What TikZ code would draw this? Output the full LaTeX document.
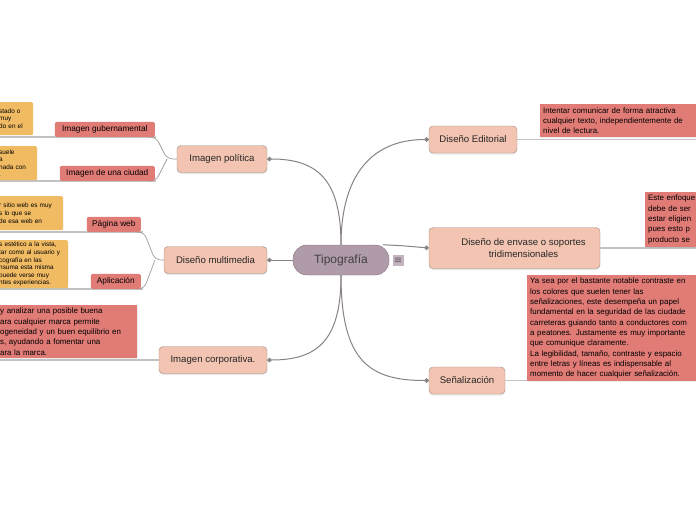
\documentclass[tikz,border=0pt]{standalone}
\usepackage{fontspec}
\setmainfont{Liberation Sans}
\newfontfamily\iconfont{DejaVu Sans}
\usetikzlibrary{arrows.meta,shadows}

\definecolor{hubfill}{HTML}{B09BAA}
\definecolor{hubdraw}{HTML}{85727F}
\definecolor{topicfill}{HTML}{F2C4B1}
\definecolor{topicdraw}{HTML}{9E8E8A}
\definecolor{notered}{HTML}{E07B76}
\definecolor{noteyellow}{HTML}{F0BB63}
\definecolor{linkgrey}{HTML}{8A8282}
\definecolor{basegrey}{HTML}{C2C2C2}

\tikzset{
  hub/.style={draw=hubdraw, fill=hubfill, rounded corners=14pt, minimum width=96pt, minimum height=30pt, text=black!75, font=\fontsize{12}{14}\selectfont},
  topic/.style={draw=topicdraw, fill=topicfill, rounded corners=4pt, minimum height=27pt, text=black!85, font=\fontsize{9.6}{11.5}\selectfont, align=center,
    drop shadow={opacity=0.18, shadow xshift=0pt, shadow yshift=-1.5pt}},
  tag/.style={fill=notered, rounded corners=1.5pt, minimum height=15pt, inner xsep=3pt, font=\fontsize{8.3}{10}\selectfont, anchor=south east},
  rednote/.style={fill=notered, anchor=north west, align=left, inner sep=3pt, font=\fontsize{7.9}{10.3}\selectfont,
    drop shadow={opacity=0.15, shadow xshift=0.8pt, shadow yshift=-0.8pt}},
  yellownote/.style={fill=noteyellow, rounded corners=2pt, anchor=north west, align=left, inner sep=2pt, font=\fontsize{6.4}{7.6}\selectfont},
  link/.style={draw=linkgrey, line width=1pt, -{Circle[length=4.5pt]}},
  fork/.style={draw=linkgrey!80, line width=0.7pt, rounded corners=6pt},
  base/.style={draw=basegrey, line width=1.3pt}
}

\begin{document}
\begin{tikzpicture}[x=1pt, y=-1pt]
  \useasboundingbox (0,0) rectangle (696,520);
  \clip (0,0) rectangle (696,520);

  % central idea
  \node[hub] (hub) at (341,260) {Tipografía};
  \node[fill=hubfill!75, text=hubdraw!80!black, minimum size=11pt, inner sep=0pt, font=\iconfont\fontsize{10}{10}\selectfont] (menu) at (398,260.5) {≡};

  % main topics
  \node[topic, minimum width=90pt] (pol) at (222,159) {Imagen política};
  \node[topic, minimum width=103pt] (multi) at (215.5,260) {Diseño multimedia};
  \node[topic, minimum width=108pt] (corp) at (213,360) {Imagen corporativa.};
  \node[topic, minimum width=88pt] (edit) at (473,139.5) {Diseño Editorial};
  \node[topic, minimum width=171pt, minimum height=41pt] (envase) at (514.5,248) {\hspace*{18pt}Diseño de envase o soportes\\\hspace*{18pt}tridimensionales};
  \node[topic, minimum width=76pt] (senal) at (467,380.5) {Señalización};

  % draw the links from the centre
  \draw[link] (hub.north) .. controls (341,180) and (318,159) .. (pol.east);
  \draw[link] (hub.north) .. controls (341,180) and (368,139.5) .. (edit.west);
  \draw[link] (hub.west) -- (multi.east);
  \draw[link] (hub.20) .. controls (400,245.5) .. (envase.west);
  \draw[link] (hub.south) .. controls (341,340) and (318,360) .. (corp.east);
  \draw[link] (hub.south) .. controls (341,362) and (370,380.5) .. (senal.west);

  % define the coordinates
  \coordinate (polfork) at (167,159);
  \coordinate (polup) at (0,137);
  \coordinate (poldown) at (0,181);
  \coordinate (multifork) at (155,260);
  \coordinate (multiup) at (0,232);
  \coordinate (multidown) at (0,289);
  \coordinate (corpend) at (0,360);
  \coordinate (editend) at (700,139.5);
  \coordinate (envaseend) at (700,248);
  \coordinate (senalend) at (700,380.5);

  % Imagen politica
  \draw[base] (polup) -- (156,137);
  \draw[base] (poldown) -- (156,181);
  \draw[fork] (pol.west) -- (polfork) -- ++(-11,-22) -- ++(-8,0);
  \draw[fork] (polfork) -- ++(-11,22) -- ++(-8,0);
  \node[tag, minimum width=100pt] (gub) at (155,137) {Imagen gubernamental};
  \node[tag, minimum width=95pt] (ciudad) at (155,181) {Imagen de una ciudad};
  \node[yellownote, text width=32pt, minimum height=33pt] (gubnote) at (-3,102) {stado o\\muy\\do en el};
  \node[yellownote, text width=36pt, minimum height=34pt] (ciudadnote) at (-3,146) {suele\\a\\nada con\\.};

  % Diseno multimedia
  \draw[base] (multiup) -- (143,232);
  \draw[base] (multidown) -- (143,289);
  \draw[fork] (multi.west) -- (multifork) -- ++(-11,-28) -- ++(-8,0);
  \draw[fork] (multifork) -- ++(-11,29) -- ++(-8,0);
  \node[tag, minimum width=54pt] (web) at (141,232) {Página web};
  \node[tag, minimum width=50pt] (apli) at (141,289) {Aplicación};
  \node[yellownote, text width=62pt, minimum height=34pt] (webnote) at (-3,196) {r sitio web es muy\\s lo que se\\de esa web en};
  \node[yellownote, text width=67pt, minimum height=48pt] (aplinote) at (-3,240) {s estético a la vista,\\tar como al usuario y\\cografía en las\\nsuma esta misma\\puede verse muy\\ntes experiencias.};

  % Imagen corporativa
  \draw[base] (corp.west) -- (corpend);
  \node[rednote, text width=134pt, minimum height=53pt] (corpnote) at (-3,305) {y analizar una posible buena\\ara cualquier marca permite\\ogeneidad y un buen equilibrio en\\s, ayudando a fomentar una\\ara la marca.};

  % right side notes
  \draw[base] (edit.east) -- (editend);
  \node[rednote, text width=200pt, minimum height=33pt] (editnote) at (540,104) {Intentar comunicar de forma atractiva\\cualquier texto, independientemente de\\nivel de lectura.};
  \draw[base] (envase.east) -- (envaseend);
  \node[rednote, text width=100pt, minimum height=51pt] (envasenote) at (645,192) {Este enfoque\\debe de ser\\estar eligien\\pues esto p\\producto se};
  \draw[base] (senal.east) -- (senalend);
  \node[rednote, text width=200pt, minimum height=105pt] (senalnote) at (527,275) {Ya sea por el bastante notable contraste en\\los colores que suelen tener las\\señalizaciones, este desempeña un papel\\fundamental en la seguridad de las ciudade\\carreteras guiando tanto a conductores com\\a peatones. Justamente es muy importante\\que comunique claramente.\\La legibilidad, tamaño, contraste y espacio\\entre letras y líneas es indispensable al\\momento de hacer cualquier señalización.};
\end{tikzpicture}
\end{document}
